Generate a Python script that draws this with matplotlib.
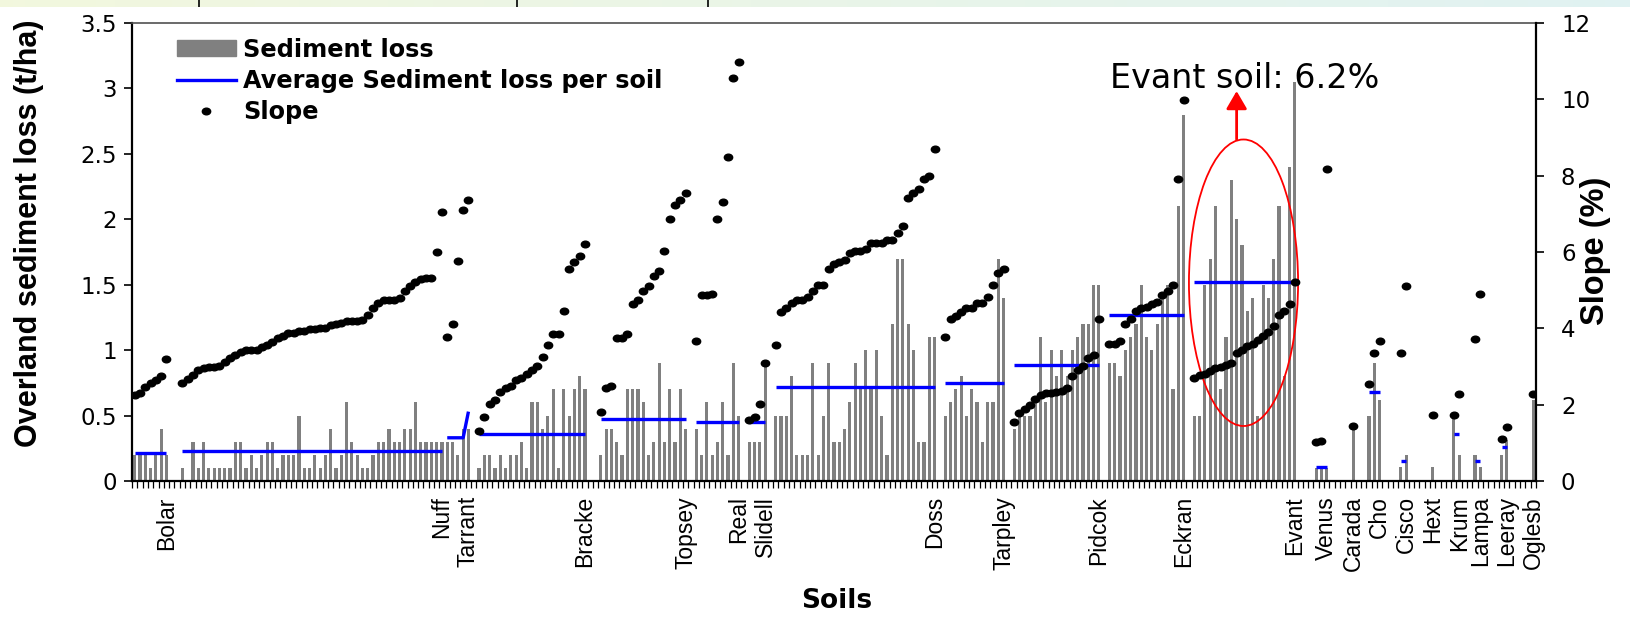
import numpy as np
import matplotlib
matplotlib.use('Agg')
import matplotlib.pyplot as plt
from matplotlib.patches import Ellipse, Patch
from matplotlib.lines import Line2D
from matplotlib.path import Path
from matplotlib.transforms import Affine2D
from matplotlib import font_manager

# soils in plotting order, empty category slots before each soil
soils = ['Bolar', 'Nuff', 'Tarrant', 'Bracke', 'Topsey', 'Real', 'Slidell', 'Doss',
         'Tarpley', 'Pidcok', 'Eckran', 'Evant', 'Venus', 'Carada', 'Cho', 'Cisco',
         'Hext', 'Krum', 'Lampa', 'Leeray', 'Oglesb']
gaps_before = [0, 2, 0, 1, 2, 1, 1, 1, 1, 1, 1, 1, 3, 4, 2, 3, 4, 3, 2, 3, 4]

# sediment loss (t/ha) per sample
sed_bolar = [0.2, 0.2, 0.2, 0.1, 0.2, 0.4, 0.2]
sed_nuff = [0.1, 0, 0.3, 0.1, 0.3, 0.1, 0.1, 0.1, 0.1, 0.1,
            0.3, 0.3, 0.1, 0.2, 0.1, 0.2, 0.3, 0.3, 0.1, 0.2,
            0.2, 0.2, 0.5, 0.1, 0.1, 0.2, 0.1, 0.2, 0.4, 0.1,
            0.2, 0.6, 0.3, 0.2, 0.1, 0.1, 0.2, 0.3, 0.3, 0.4,
            0.3, 0.3, 0.4, 0.4, 0.6, 0.3, 0.3, 0.3, 0.3, 0.3]
sed_tarrant = [0.3, 0.3, 0.2, 0.4, 0.4]
sed_bracke = [0.1, 0.2, 0.2, 0.1, 0.2, 0.1, 0.2, 0.2, 0.3, 0.1, 0.6,
              0.6, 0.4, 0.5, 0.7, 0.1, 0.7, 0.5, 0.7, 0.8, 0.7]
sed_topsey = [0.2, 0.4, 0.4, 0.3, 0.2, 0.7, 0.7, 0.7, 0.6, 0.2, 0.3, 0.9, 0.3, 0.7, 0.3, 0.7, 0.4]
sed_real = [0.4, 0.2, 0.6, 0.2, 0.3, 0.6, 0.2, 0.9, 0.5]
sed_slidell = [0.3, 0.3, 0.3, 0.9]
sed_doss = [0.5, 0.5, 0.5, 0.8, 0.2, 0.2, 0.2, 0.9, 0.2, 0.5,
            0.9, 0.3, 0.3, 0.4, 0.6, 0.9, 0.7, 1.0, 0.7, 1.0,
            0.5, 0.2, 1.2, 1.7, 1.7, 1.2, 1.0, 0.3, 0.3, 1.1, 1.1]
sed_tarpley = [0.5, 0.6, 0.7, 0.8, 0.5, 0.7, 0.6, 0.3, 0.6, 0.6, 1.7, 1.4]
sed_pidcok = [0.4, 0.5, 0.5, 0.5, 0.6, 1.1, 0.6, 1.0, 0.8, 1.0, 0.8, 1.0, 1.1, 1.2, 1.2, 1.5, 1.5]
sed_eckran = [0.9, 0.9, 0.8, 1.0, 1.1, 1.2, 1.5, 1.1, 1.0, 1.2, 1.4, 1.5, 0.7, 2.1, 2.8]
sed_evant = [0.5, 0.5, 1.5, 1.7, 2.1, 0.7, 1.1, 2.3, 2.0, 1.8,
             1.3, 1.4, 0.5, 1.5, 1.4, 1.7, 2.1, 0.8, 2.4, 3.05]
sed_venus = [0.1, 0.1, 0.1]
sed_carada = [0.43]
sed_cho = [0.5, 0.9, 0.62]
sed_cisco = [0.11, 0.2]
sed_hext = [0.11]
sed_krum = [0.5, 0.2]
sed_lampa = [0.2, 0.11]
sed_leeray = [0.2, 0.31]
sed_oglesb = [0.62]

# slope (%) per sample
slope_bolar = [2.26, 2.3, 2.45, 2.57, 2.64, 2.74, 3.19]
slope_nuff = [2.57, 2.67, 2.78, 2.91, 2.95, 2.98, 2.98, 3.02, 3.12, 3.22,
              3.29, 3.39, 3.43, 3.43, 3.43, 3.5, 3.57, 3.63, 3.74, 3.81,
              3.87, 3.87, 3.94, 3.94, 3.98, 3.98, 4.01, 4.01, 4.08, 4.11,
              4.15, 4.18, 4.18, 4.18, 4.22, 4.35, 4.53, 4.66, 4.73, 4.73,
              4.73, 4.8, 4.97, 5.11, 5.21, 5.28, 5.31, 5.31, 6.0, 7.06]
slope_tarrant = [3.77, 4.11, 5.76, 7.1, 7.37]
slope_bracke = [1.30, 1.68, 2.02, 2.13, 2.33, 2.43, 2.50, 2.64, 2.71, 2.81, 2.91,
                3.02, 3.26, 3.57, 3.84, 3.84, 4.46, 5.55, 5.73, 5.90, 6.21]
slope_topsey = [1.82, 2.43, 2.50, 3.74, 3.74, 3.84, 4.63, 4.73, 4.97, 5.11,
                5.38, 5.49, 6.03, 6.86, 7.23, 7.37, 7.54]
slope_real = [3.67, 4.87, 4.87, 4.90, 6.86, 7.30, 8.50, 10.56, 10.97]
slope_slidell = [1.61, 1.68, 2.02, 3.09]
slope_doss = [3.57, 4.42, 4.53, 4.66, 4.73, 4.73, 4.83, 4.97, 5.14, 5.14,
              5.55, 5.69, 5.73, 5.79, 5.97, 6.03, 6.03, 6.07, 6.24, 6.24,
              6.24, 6.31, 6.31, 6.51, 6.69, 7.41, 7.54, 7.65, 7.92, 7.99, 8.71]
slope_tarpley = [3.77, 4.25, 4.32, 4.42, 4.53, 4.53, 4.66, 4.66, 4.83, 5.14, 5.45, 5.55]
slope_pidcok = [1.54, 1.78, 1.89, 1.99, 2.16, 2.26, 2.30, 2.30, 2.33, 2.37,
                2.43, 2.74, 2.91, 3.02, 3.22, 3.29, 4.25]
slope_eckran = [3.6, 3.6, 3.67, 4.11, 4.25, 4.46, 4.53, 4.56, 4.63, 4.70, 4.87, 4.97, 5.14, 7.92, 9.98]
slope_evant = [2.71, 2.78, 2.81, 2.88, 2.95, 2.98, 3.05, 3.09, 3.36, 3.43,
               3.53, 3.6, 3.70, 3.81, 3.91, 4.05, 4.35, 4.46, 4.63, 5.21]
slope_venus = [1.02, 1.05, 8.18]
slope_carada = [1.45]
slope_cho = [2.54, 3.36, 3.68]
slope_cisco = [3.36, 5.12]
slope_hext = [1.73]
slope_krum = [1.73, 2.27]
slope_lampa = [3.72, 4.89]
slope_leeray = [1.09, 1.42]
slope_oglesb = [2.27]

# average sediment loss per soil
avg_loss = [0.21, 0.23, 0.33, 0.36, 0.47, 0.45, 0.45, 0.72, 0.75, 0.89, 1.27,
            1.52, 0.11, 0.43, 0.68, 0.15, 0.11, 0.36, 0.15, 0.26, 0.62]
tarrant_last_avg = 0.53

sed_all = [sed_bolar, sed_nuff, sed_tarrant, sed_bracke, sed_topsey, sed_real, sed_slidell,
           sed_doss, sed_tarpley, sed_pidcok, sed_eckran, sed_evant, sed_venus, sed_carada,
           sed_cho, sed_cisco, sed_hext, sed_krum, sed_lampa, sed_leeray, sed_oglesb]
slope_all = [slope_bolar, slope_nuff, slope_tarrant, slope_bracke, slope_topsey, slope_real,
             slope_slidell, slope_doss, slope_tarpley, slope_pidcok, slope_eckran, slope_evant,
             slope_venus, slope_carada, slope_cho, slope_cisco, slope_hext, slope_krum,
             slope_lampa, slope_leeray, slope_oglesb]

installed = {f.name for f in font_manager.fontManager.ttflist}
if 'Liberation Sans Narrow' in installed:
    narrow = 'Liberation Sans Narrow'
    tick_size, ylab_size, y2lab_size = 19.5, 26, 28
else:
    narrow = 'Liberation Sans'
    tick_size, ylab_size, y2lab_size = 16.5, 22, 23.5

fig = plt.figure(figsize=(16.3, 6.23), dpi=100)
ax = fig.add_axes([0.081, 0.228, 0.8613, 0.735])
ax2 = ax.twinx()

dot = Path.unit_circle().transformed(Affine2D().scale(1.25, 1.0))

pos = 0
label_pos = []
for i, name in enumerate(soils):
    pos += gaps_before[i]
    x = np.arange(pos, pos + len(sed_all[i]))
    ax.bar(x, sed_all[i], width=0.6, color='#808080', zorder=2)
    avg = np.full(len(x), avg_loss[i])
    if name == 'Tarrant':
        avg[-1] = tarrant_last_avg
    ax.plot(x, avg, color='#0000ff', lw=2.4, solid_capstyle='butt', zorder=3)
    ax2.plot(x, slope_all[i], ls='none', marker=dot, ms=6, color='black', zorder=4)
    label_pos.append(x[-1])
    pos += len(sed_all[i])
n_slots = pos

ax.set_xlim(-0.5, n_slots - 0.5)
ax.set_ylim(0, 3.5)
ax2.set_ylim(0, 12)

ax.set_yticks(np.arange(0, 3.51, 0.5))
ax.set_yticklabels(['0', '0.5', '1', '1.5', '2', '2.5', '3', '3.5'])
ax2.set_yticks(np.arange(0, 12.1, 2))
ax2.set_yticklabels(['0', '2', '4', '6', '8', '10', '12'])
ax.tick_params(axis='y', labelsize=16.5, length=6, width=1.2, pad=5)
ax2.tick_params(axis='y', labelsize=16.5, length=6, width=1.2, pad=12)

ax.set_xticks(np.arange(-0.5, n_slots, 1.0))
ax.set_xticklabels([])
ax.tick_params(axis='x', which='major', length=5, width=0.9)
ax.set_xticks(label_pos, minor=True)
ax.set_xticklabels(soils, minor=True, rotation=90, family=narrow, fontsize=tick_size)
ax.tick_params(axis='x', which='minor', length=0, pad=11)

for s in ['left', 'bottom']:
    ax.spines[s].set_linewidth(1.6)
ax.spines['top'].set_color('#505050')
ax.spines['top'].set_linewidth(1.2)
ax.spines['right'].set_visible(False)
for s in ['left', 'bottom', 'top']:
    ax2.spines[s].set_visible(False)
ax2.spines['right'].set_linewidth(1.6)

# Evant highlight
ax.add_patch(Ellipse((209.3, 1.515), width=20.6, height=2.19, fill=False,
                     ec='red', lw=1.3, zorder=5))
ax.annotate('', xy=(208, 2.98), xytext=(208, 2.61),
            arrowprops=dict(arrowstyle='-|>,head_length=0.6,head_width=0.35',
                            color='red', lw=2, mutation_scale=18, shrinkA=0, shrinkB=0))
ax.text(209.5, 3.0, 'Evant soil: 6.2%', ha='center', va='baseline', fontsize=24)

handles = [Patch(color='#808080'),
           Line2D([], [], color='#0000ff', lw=2.4),
           Line2D([], [], ls='none', marker=dot, ms=6, color='black')]
labels = ['Sediment loss', 'Average Sediment loss per soil', 'Slope']
ax2.legend(handles, labels, loc='upper left', bbox_to_anchor=(0.032, 0.968),
           frameon=False, prop=dict(weight='bold', size=17.3), handlelength=2.45,
           handleheight=0.62, labelspacing=0.3, handletextpad=0.3,
           borderpad=0, borderaxespad=0)

fig.text(0.018, 0.625, 'Overland sediment loss (t/ha)', rotation=90, ha='center',
         va='center', fontweight='bold', family=narrow, fontsize=ylab_size)
fig.text(0.979, 0.597, 'Slope (%)', rotation=90, ha='center', va='center',
         fontweight='bold', family=narrow, fontsize=y2lab_size)
fig.text(0.513, 0.035, 'Soils', ha='center', va='center', fontweight='bold', fontsize=19)

# thin coloured strip left over at the top of the picture
strip = fig.add_axes([0, 1 - 7 / 623, 1, 7 / 623])
t = np.linspace(0, 1, 256)
c0 = np.array([0.95, 0.97, 0.87])
c1 = np.array([0.88, 0.95, 0.95])
grad = (c0[None, :] * (1 - t[:, None]) + c1[None, :] * t[:, None])[None, :, :]
strip.imshow(grad, aspect='auto', extent=(0, 1, 0, 1))
for xv in [199, 517, 708]:
    strip.axvline(xv / 1630, color='black', lw=1.2)
strip.set_xlim(0, 1)
strip.axis('off')

fig.savefig('out.png', dpi=100)
